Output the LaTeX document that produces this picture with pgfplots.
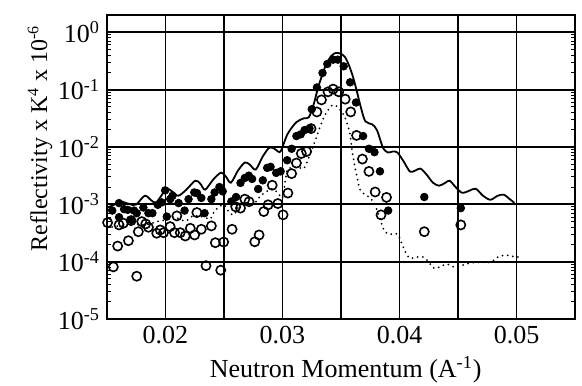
\documentclass[border=0pt]{standalone}
\usepackage{fontspec}
\setmainfont{Liberation Serif}
\usepackage{pgfplots}
\pgfplotsset{compat=1.18}
\begin{document}
\begin{tikzpicture}
\begin{axis}[
  scale only axis, width=234pt, height=152pt,
  xmin=0.015, xmax=0.055, ymode=log, ymin=1e-5, ymax=2,
  scaled x ticks=false,
  xtick={0.02,0.03,0.04,0.05}, xticklabels={0.02,0.03,0.04,0.05},
  minor xtick={0.025,0.035,0.045},
  ytick={1e-5,1e-4,1e-3,1e-2,1e-1,1},
  yticklabels={10\textsuperscript{-5},10\textsuperscript{-4},10\textsuperscript{-3},10\textsuperscript{-2},10\textsuperscript{-1},10\textsuperscript{0}},
  xmajorgrids, xminorgrids, ymajorgrids,
  grid style={black, line width=0.9pt},
  minor grid style={black, line width=0.9pt},
  axis line style={line width=0.9pt},
  tick style={black, line width=0.5pt},
  tick align=inside,
  major tick length=4pt, minor tick length=2pt,
  ticklabel style={font=\fontsize{13}{15}\selectfont},
  xlabel={Neutron Momentum (A\textsuperscript{-1})},
  ylabel={Reflectivity x K\textsuperscript{4} x 10\textsuperscript{-6}},
  every axis x label/.style={at={(axis description cs:0.51,-0.168)}, anchor=center, font=\fontsize{13}{15}\selectfont},
  every axis y label/.style={at={(axis description cs:-0.143,0.595)}, anchor=center, rotate=90, font=\fontsize{12}{14}\selectfont},
]
\coordinate (sw) at (rel axis cs:0,0);
\coordinate (ne) at (rel axis cs:1,1);
% model (solid)
\addplot[black, line width=0.9pt, smooth, tension=0.5] table {
0.01500 8.69e-4
0.01559 9.80e-4
0.01619 1.11e-3
0.01686 1.02e-3
0.01746 9.80e-4
0.01822 1.41e-3
0.01873 1.20e-3
0.01915 1.06e-3
0.01958 1.35e-3
0.02008 1.87e-3
0.02059 1.66e-3
0.02110 1.41e-3
0.02178 1.80e-3
0.02254 2.58e-3
0.02297 2.29e-3
0.02339 1.80e-3
0.02407 2.69e-3
0.02475 3.57e-3
0.02517 3.03e-3
0.02559 2.38e-3
0.02619 3.87e-3
0.02678 5.35e-3
0.02720 4.93e-3
0.02771 4.03e-3
0.02831 6.81e-3
0.02890 9.80e-3
0.02941 9.04e-3
0.02983 8.34e-3
0.03042 1.66e-2
0.03117 2.69e-2
0.03183 3.16e-2
0.03225 3.29e-2
0.03267 5.57e-2
0.03308 0.115
0.03367 0.258
0.03417 0.387
0.03458 0.437
0.03500 0.420
0.03533 0.372
0.03567 0.269
0.03600 0.173
0.03633 9.80e-2
0.03667 5.14e-2
0.03708 2.80e-2
0.03767 2.48e-2
0.03808 1.95e-2
0.03858 9.80e-3
0.03900 8.01e-3
0.03942 8.34e-3
0.03982 8.01e-3
0.04036 5.57e-3
0.04089 3.72e-3
0.04134 3.87e-3
0.04179 4.20e-3
0.04232 3.29e-3
0.04286 2.38e-3
0.04339 2.11e-3
0.04393 2.38e-3
0.04429 2.58e-3
0.04482 1.97e-3
0.04536 1.59e-3
0.04598 1.73e-3
0.04652 1.87e-3
0.04714 1.41e-3
0.04777 1.20e-3
0.04839 1.41e-3
0.04893 1.47e-3
0.04938 1.25e-3
0.04982 1.06e-3
};
% model (dotted)
\addplot[black, line width=1pt, line cap=round, dash pattern=on 0pt off 2.6pt, smooth, tension=0.5] table {
0.01500 3.87e-4
0.01602 4.20e-4
0.01729 4.55e-4
0.01839 4.37e-4
0.01915 4.93e-4
0.02000 5.35e-4
0.02068 6.04e-4
0.02169 5.14e-4
0.02237 6.28e-4
0.02322 6.04e-4
0.02381 5.57e-4
0.02415 7.38e-4
0.02458 9.04e-4
0.02500 9.80e-4
0.02542 7.38e-4
0.02585 6.55e-4
0.02636 9.80e-4
0.02695 1.02e-3
0.02754 1.02e-3
0.02805 1.35e-3
0.02847 1.59e-3
0.02915 1.87e-3
0.02966 1.53e-3
0.03000 1.30e-3
0.03025 2.69e-3
0.03042 4.03e-3
0.03083 4.37e-3
0.03142 4.37e-3
0.03183 4.20e-3
0.03225 6.55e-3
0.03283 1.35e-2
0.03325 2.38e-2
0.03367 3.72e-2
0.03425 5.35e-2
0.03475 4.93e-2
0.03533 3.29e-2
0.03575 1.73e-2
0.03600 7.38e-3
0.03633 3.29e-3
0.03667 1.73e-3
0.03725 1.41e-3
0.03783 1.06e-3
0.03825 6.28e-4
0.03867 3.57e-4
0.03908 3.03e-4
0.03982 3.03e-4
0.04018 2.11e-4
0.04054 1.41e-4
0.04089 1.15e-4
0.04152 1.20e-4
0.04205 1.20e-4
0.04250 9.80e-5
0.04295 7.69e-5
0.04339 8.01e-5
0.04402 9.04e-5
0.04473 8.01e-5
0.04536 8.68e-5
0.04598 9.41e-5
0.04688 9.80e-5
0.04777 9.80e-5
0.04839 1.20e-4
0.04902 1.30e-4
0.04955 1.25e-4
0.05018 1.20e-4
};
% data (filled)
\addplot[only marks, mark=*, mark size=1.9pt, black] table {
0.01545 7.78e-4
0.01603 1.05e-3
0.01603 5.96e-4
0.01646 8.24e-4
0.01677 8.01e-4
0.01706 5.35e-4
0.01731 7.78e-4
0.01754 7.01e-4
0.01811 8.79e-4
0.01854 7.01e-4
0.01888 7.01e-4
0.01934 9.80e-4
0.01968 1.08e-3
0.01997 1.75e-3
0.02011 6.11e-4
0.02040 1.23e-3
0.02060 1.41e-3
0.02112 1.05e-3
0.02163 7.78e-4
0.02197 1.23e-3
0.02246 1.61e-3
0.02269 1.57e-3
0.02306 1.29e-3
0.02334 7.01e-4
0.02392 1.23e-3
0.02420 1.61e-3
0.02461 2.00e-3
0.02489 1.68e-3
0.02563 1.12e-3
0.02603 1.34e-3
0.02641 2.36e-3
0.02678 2.88e-3
0.02712 3.16e-3
0.02740 2.77e-3
0.02792 1.85e-3
0.02832 2.62e-3
0.02869 4.32e-3
0.02898 4.50e-3
0.02946 3.53e-3
0.02984 3.76e-3
0.03040 5.87e-3
0.03078 9.30e-3
0.03119 1.55e-2
0.03156 1.66e-2
0.03189 1.97e-2
0.03231 2.09e-2
0.03250 4.55e-2
0.03294 0.109
0.03342 0.195
0.03383 0.280
0.03433 0.333
0.03473 0.333
0.03523 0.255
0.03578 0.134
0.03628 5.96e-2
0.03689 1.55e-2
0.03739 9.30e-3
0.03786 8.11e-3
0.03833 3.76e-3
0.03903 7.78e-4
0.04212 1.34e-3
0.04524 8.58e-4
};
% data (open)
\addplot[only marks, mark=o, mark size=2.3pt, black, mark options={line width=0.8pt}] table {
0.01505 4.80e-4
0.01554 8.11e-5
0.01591 1.87e-4
0.01603 4.37e-4
0.01640 4.68e-4
0.01683 2.32e-4
0.01706 5.20e-4
0.01754 5.57e-5
0.01768 3.33e-4
0.01797 4.99e-4
0.01831 4.55e-4
0.01854 3.98e-4
0.01925 3.13e-4
0.01955 3.57e-4
0.01983 3.20e-4
0.02040 4.08e-4
0.02077 3.20e-4
0.02097 6.28e-4
0.02126 3.20e-4
0.02169 2.80e-4
0.02212 3.82e-4
0.02249 2.92e-4
0.02268 7.18e-4
0.02306 3.67e-4
0.02346 8.51e-5
0.02392 4.20e-4
0.02426 2.14e-4
0.02472 7.10e-5
0.02497 2.20e-4
0.02569 3.67e-4
0.02600 9.04e-4
0.02641 8.58e-4
0.02678 1.23e-3
0.02714 1.11e-3
0.02763 2.22e-4
0.02800 2.92e-4
0.02840 7.48e-4
0.02877 9.80e-4
0.02912 2.15e-3
0.02960 1.03e-3
0.03005 6.55e-4
0.03046 1.57e-3
0.03078 3.43e-3
0.03119 5.24e-3
0.03161 7.69e-3
0.03206 8.34e-3
0.03244 2.09e-2
0.03294 4.08e-2
0.03333 6.62e-2
0.03389 9.15e-2
0.03433 0.102
0.03481 9.15e-2
0.03536 6.81e-2
0.03583 4.08e-2
0.03633 1.59e-2
0.03683 6.15e-3
0.03739 3.75e-3
0.03792 1.64e-3
0.03842 6.55e-4
0.03889 1.32e-3
0.04212 3.33e-4
0.04524 4.37e-4
};
\end{axis}
\pgfresetboundingbox
\path ([shift={(-53.5pt,-33pt)}]sw) rectangle ([shift={(3.5pt,7.5pt)}]ne);
\end{tikzpicture}
\end{document}
